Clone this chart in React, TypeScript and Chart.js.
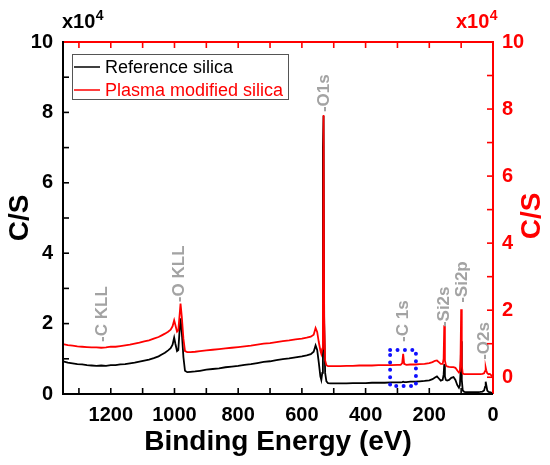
import React, { useEffect, useRef } from "react";
import { Chart, registerables } from "chart.js";

Chart.register(...registerables);

// ---------- data ----------
const energies = [
  1350, 1335, 1320, 1305, 1290, 1275, 1260, 1245, 1230, 1215,
  1200, 1185, 1170, 1155, 1140, 1125, 1110, 1095, 1080, 1065,
  1050, 1040, 1030, 1020, 1012, 1006, 1001, 997, 992, 988,
  984, 981, 977, 972, 967, 960, 950, 935, 920, 900,
  880, 860, 840, 820, 800, 780, 760, 740, 720, 700,
  680, 660, 640, 620, 600, 585, 572, 563, 557, 552,
  547, 542, 539, 536, 534, 532, 530, 527, 523, 518,
  510, 495, 480, 460, 440, 420, 400, 380, 360, 340,
  320, 300, 290, 285, 282, 279, 272, 260, 245, 230,
  215, 200, 190, 182, 176, 170, 164, 158, 155, 153,
  151, 148, 144, 138, 131, 124, 118, 112, 107, 104,
  102, 100, 98, 95, 90, 80, 70, 60, 50, 40,
  33, 28, 25, 23, 21, 18, 14, 10, 6, 3,
  0,
];

// Reference silica (left axis, x10^4 C/S)
const referenceSilica = [
  0.93, 0.89, 0.87, 0.85, 0.84, 0.82, 0.81, 0.80, 0.81, 0.80,
  0.82, 0.82, 0.84, 0.85, 0.87, 0.89, 0.92, 0.95, 0.98, 1.02,
  1.07, 1.12, 1.17, 1.24, 1.30, 1.40, 1.60, 1.42, 1.22, 1.25,
  1.80, 2.15, 1.75, 1.05, 0.66, 0.62, 0.63, 0.64, 0.66, 0.69,
  0.71, 0.73, 0.76, 0.78, 0.80, 0.83, 0.85, 0.88, 0.91, 0.93,
  0.96, 0.99, 1.01, 1.04, 1.07, 1.10, 1.13, 1.20, 1.38, 1.25,
  0.90, 0.50, 0.40, 0.60, 7.00, 7.90, 2.00, 0.60, 0.36, 0.31,
  0.30, 0.30, 0.30, 0.30, 0.31, 0.31, 0.31, 0.32, 0.32, 0.32,
  0.33, 0.33, 0.33, 0.34, 0.35, 0.34, 0.34, 0.35, 0.35, 0.36,
  0.37, 0.39, 0.42, 0.47, 0.50, 0.44, 0.38, 0.40, 0.55, 0.85,
  0.50, 0.40, 0.38, 0.40, 0.46, 0.48, 0.40, 0.25, 0.18, 0.25,
  0.60, 1.50, 0.40, 0.10, 0.06, 0.05, 0.05, 0.05, 0.05, 0.06,
  0.07, 0.10, 0.20, 0.35, 0.25, 0.10, 0.06, 0.05, 0.04, 0.03,
  0.02,
];

// Plasma modified silica (right axis, x10^4 C/S)
const plasmaSilica = [
  0.99, 0.96, 0.94, 0.92, 0.91, 0.90, 0.89, 0.89, 0.88, 0.89,
  0.91, 0.91, 0.93, 0.95, 0.97, 1.00, 1.03, 1.07, 1.10, 1.15,
  1.20, 1.25, 1.30, 1.36, 1.42, 1.52, 1.70, 1.55, 1.36, 1.40,
  1.85, 2.20, 1.80, 1.15, 0.78, 0.75, 0.75, 0.76, 0.78, 0.80,
  0.82, 0.84, 0.86, 0.88, 0.90, 0.92, 0.94, 0.97, 1.00, 1.02,
  1.05, 1.08, 1.10, 1.13, 1.15, 1.18, 1.21, 1.27, 1.47, 1.35,
  1.05, 0.80, 0.70, 0.85, 2.00, 7.82, 1.80, 0.50, 0.36, 0.33,
  0.33, 0.33, 0.33, 0.34, 0.34, 0.35, 0.35, 0.35, 0.36, 0.36,
  0.36, 0.37, 0.37, 0.42, 0.70, 0.40, 0.37, 0.38, 0.38, 0.39,
  0.40, 0.42, 0.45, 0.49, 0.50, 0.45, 0.40, 0.40, 0.55, 1.55,
  0.50, 0.36, 0.32, 0.31, 0.30, 0.30, 0.28, 0.20, 0.14, 0.18,
  0.50, 2.03, 0.35, 0.11, 0.09, 0.09, 0.09, 0.09, 0.09, 0.09,
  0.10, 0.12, 0.18, 0.29, 0.20, 0.12, 0.09, 0.10, 0.06, 0.03,
  0.02,
];

const seriesNames = ["Reference silica", "Plasma modified silica"];
const xTickLabels = [0, 200, 400, 600, 800, 1000, 1200];
const leftTickLabels = [0, 2, 4, 6, 8, 10];
const rightTickLabels = [0, 2, 4, 6, 8, 10];

// peak annotations: label, energy (eV), base level (left-axis units)
const peakLabels = ["-C KLL", "-O KLL", "-O1s", "-C 1s", "-Si2s", "-Si2p", "-O2s"];
const peakEnergies = [1228, 986, 531, 283, 154, 97, 28];
const peakBases = [1.48, 2.61, 8.01, 1.48, 1.9, 2.59, 0.97];

// highlighted region around C 1s (energy range, left-axis range)
const highlightEnergy = [323, 242];
const highlightCounts = [1.25, 0.23];

// ---------- styling ----------
const RED = "#ff0000";
const GRAY = "#a3a3a3";
const BLUE = "#1010ff";
const FONT = "'Liberation Sans', Arial, Helvetica, sans-serif";

const decorPlugin = {
  id: "decor",
  afterDatasetsDraw(chart: any) {
    const { ctx, chartArea: a, scales } = chart;
    const x = scales.x;
    const y = scales.y;
    const y2 = scales.y2;
    ctx.save();

    // highlight box (dotted)
    const bx1 = x.getPixelForValue(highlightEnergy[0]);
    const bx2 = x.getPixelForValue(highlightEnergy[1]);
    const by1 = y.getPixelForValue(highlightCounts[0]);
    const by2 = y.getPixelForValue(highlightCounts[1]);
    ctx.strokeStyle = BLUE;
    ctx.lineWidth = 4;
    ctx.lineCap = "round";
    ctx.setLineDash([0, 7.4]);
    ctx.beginPath();
    ctx.moveTo(bx1, by1);
    ctx.lineTo(bx2, by1);
    ctx.lineTo(bx2, by2);
    ctx.lineTo(bx1, by2);
    ctx.closePath();
    ctx.stroke();
    ctx.setLineDash([]);
    ctx.lineCap = "butt";

    // peak labels
    ctx.fillStyle = GRAY;
    ctx.font = `bold 17px ${FONT}`;
    ctx.textAlign = "left";
    ctx.textBaseline = "middle";
    peakLabels.forEach((lab, i) => {
      const px = x.getPixelForValue(peakEnergies[i]);
      const py = y.getPixelForValue(peakBases[i]);
      ctx.save();
      ctx.translate(px, py);
      ctx.rotate(-Math.PI / 2);
      ctx.fillText(lab, 0, 0);
      ctx.restore();
    });

    // frame
    ctx.lineWidth = 2;
    ctx.strokeStyle = RED;
    ctx.beginPath();
    ctx.moveTo(a.left, a.top);
    ctx.lineTo(a.right, a.top);
    ctx.lineTo(a.right, a.bottom);
    ctx.stroke();
    ctx.strokeStyle = "#000";
    ctx.beginPath();
    ctx.moveTo(a.left, a.top - 1);
    ctx.lineTo(a.left, a.bottom);
    ctx.lineTo(a.right, a.bottom);
    ctx.stroke();

    // inward tick marks
    const TL = 6;
    ctx.lineWidth = 1.6;
    x.ticks.forEach((t: any) => {
      const px = x.getPixelForValue(t.value);
      if (Math.abs(px - a.right) < 2 || Math.abs(px - a.left) < 2) return;
      ctx.strokeStyle = "#000";
      ctx.beginPath();
      ctx.moveTo(px, a.bottom);
      ctx.lineTo(px, a.bottom - TL);
      ctx.stroke();
      ctx.strokeStyle = RED;
      ctx.beginPath();
      ctx.moveTo(px, a.top);
      ctx.lineTo(px, a.top + TL);
      ctx.stroke();
    });
    ctx.strokeStyle = "#000";
    y.ticks.forEach((t: any) => {
      const py = y.getPixelForValue(t.value);
      if (Math.abs(py - a.top) < 2 || Math.abs(py - a.bottom) < 2) return;
      ctx.beginPath();
      ctx.moveTo(a.left, py);
      ctx.lineTo(a.left + TL, py);
      ctx.stroke();
    });
    ctx.strokeStyle = RED;
    y2.ticks.forEach((t: any) => {
      const py = y2.getPixelForValue(t.value);
      if (Math.abs(py - a.top) < 2 || Math.abs(py - a.bottom) < 2) return;
      ctx.beginPath();
      ctx.moveTo(a.right, py);
      ctx.lineTo(a.right - TL, py);
      ctx.stroke();
    });

    // legend
    const ds = chart.data.datasets;
    ctx.lineWidth = 1;
    ctx.strokeStyle = "#555";
    ctx.fillStyle = "#fff";
    ctx.fillRect(72.5, 54.5, 216, 45);
    ctx.strokeRect(72.5, 54.5, 216, 45);
    ctx.font = `18px ${FONT}`;
    ctx.textAlign = "left";
    ctx.textBaseline = "middle";
    const rows = [67, 90];
    ds.forEach((d: any, i: number) => {
      ctx.strokeStyle = d.borderColor;
      ctx.lineWidth = 1.5;
      ctx.beginPath();
      ctx.moveTo(74, rows[i]);
      ctx.lineTo(100, rows[i]);
      ctx.stroke();
      ctx.fillStyle = d.borderColor;
      ctx.fillText(d.label, 105, rows[i] + 1);
    });

    // multipliers
    const drawMult = (x0: number, color: string) => {
      ctx.fillStyle = color;
      ctx.textAlign = "left";
      ctx.textBaseline = "alphabetic";
      ctx.font = `bold 20px ${FONT}`;
      ctx.fillText("x10", x0, 28);
      const w = ctx.measureText("x10").width;
      ctx.font = `bold 14px ${FONT}`;
      ctx.fillText("4", x0 + w + 0.5, 20);
    };
    drawMult(62, "#000");
    drawMult(456, RED);

    // right axis title
    ctx.save();
    ctx.translate(532, 216);
    ctx.rotate(-Math.PI / 2);
    ctx.fillStyle = RED;
    ctx.font = `bold 28px ${FONT}`;
    ctx.textAlign = "center";
    ctx.textBaseline = "middle";
    ctx.fillText("C/S", 0, 0);
    ctx.restore();

    ctx.restore();
  },
};

export default function App() {
  const ref = useRef<HTMLCanvasElement>(null);

  useEffect(() => {
    const canvas = ref.current;
    if (!canvas) return;
    const chart = new Chart(canvas, {
      type: "line",
      data: {
        datasets: [
          {
            label: seriesNames[0],
            data: energies.map((e, i) => ({ x: e, y: referenceSilica[i] })),
            borderColor: "#000000",
            borderWidth: 1.8,
            pointRadius: 0,
            tension: 0,
            yAxisID: "y",
            order: 2,
          },
          {
            label: seriesNames[1],
            data: energies.map((e, i) => ({ x: e, y: plasmaSilica[i] })),
            borderColor: RED,
            borderWidth: 1.8,
            pointRadius: 0,
            tension: 0,
            yAxisID: "y2",
            order: 1,
          },
        ],
      },
      options: {
        animation: false,
        responsive: true,
        maintainAspectRatio: false,
        events: [],
        layout: { padding: { top: 42, left: 0, right: 0, bottom: 0 } },
        plugins: {
          legend: { display: false },
          tooltip: { enabled: false },
        },
        scales: {
          x: {
            type: "linear",
            position: "bottom",
            reverse: true,
            min: 0,
            max: 1350,
            grid: { display: false, drawTicks: false },
            border: { display: false },
            ticks: {
              stepSize: 100,
              includeBounds: false,
              autoSkip: false,
              maxRotation: 0,
              padding: 9,
              color: "#000",
              font: { family: FONT, size: 20, weight: "bold" },
              callback: (v: any) => (xTickLabels.includes(Number(v)) ? String(v) : ""),
            },
            title: {
              display: true,
              text: "Binding Energy (eV)",
              color: "#000",
              font: { family: FONT, size: 28, weight: "bold" },
              padding: { top: 0, bottom: 6 },
            },
            afterFit: (s: any) => {
              s.height = 71;
            },
          },
          y: {
            type: "linear",
            position: "left",
            min: 0,
            max: 10,
            grid: { display: false, drawTicks: false },
            border: { display: false },
            ticks: {
              stepSize: 1,
              includeBounds: false,
              autoSkip: false,
              padding: 10,
              color: "#000",
              font: { family: FONT, size: 20, weight: "bold" },
              callback: (v: any) => (leftTickLabels.includes(Number(v)) ? String(v) : ""),
            },
            title: {
              display: true,
              text: "C/S",
              color: "#000",
              font: { family: FONT, size: 28, weight: "bold" },
              padding: { top: 3, bottom: 0 },
            },
            afterFit: (s: any) => {
              s.width = 63;
            },
          },
          y2: {
            type: "linear",
            position: "right",
            min: -0.5,
            max: 10,
            grid: { display: false, drawTicks: false },
            border: { display: false },
            ticks: {
              stepSize: 1,
              includeBounds: false,
              autoSkip: false,
              padding: 9,
              color: RED,
              font: { family: FONT, size: 20, weight: "bold" },
              callback: (v: any) => (rightTickLabels.includes(Number(v)) ? String(v) : ""),
            },
            afterFit: (s: any) => {
              s.width = 57;
            },
          },
        },
      },
      plugins: [decorPlugin],
    });
    return () => chart.destroy();
  }, []);

  return (
    <div
      style={{
        position: "fixed",
        left: 0,
        top: 0,
        width: 550,
        height: 465,
        background: "#ffffff",
      }}
    >
      <canvas ref={ref} />
    </div>
  );
}
